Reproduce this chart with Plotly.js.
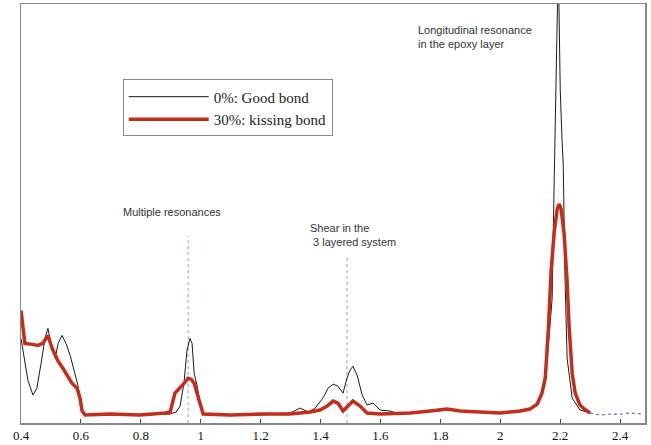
<!DOCTYPE html>
<html>
<head>
<meta charset="utf-8">
<script src="https://cdn.plot.ly/plotly-3.0.1.min.js"></script>
<style>html,body{margin:0;padding:0;background:#fff;}#chart{width:651px;height:445px;}</style>
</head>
<body>
<div id="chart"></div>
<script>
// Series names
const goodName = "0%: Good bond";
const kissName = "30%: kissing bond";

// 0%: Good bond (thin black)
const goodX = [0.400,0.410,0.423,0.440,0.453,0.467,0.480,0.490,0.500,0.514,0.524,0.537,0.550,0.564,0.577,0.590,0.604,0.614,0.700,0.797,0.898,0.918,0.931,0.944,0.954,0.964,0.971,0.978,0.988,0.998,1.008,1.100,1.198,1.298,1.332,1.359,1.382,1.408,1.425,1.442,1.458,1.475,1.488,1.498,1.508,1.522,1.539,1.555,1.575,1.599,1.632,1.665,1.750,1.822,1.900,1.999,2.080,2.123,2.150,2.163,2.173,2.180,2.187,2.190,2.193,2.196,2.200,2.206,2.210,2.216,2.223,2.240,2.266,2.300];
const goodY = [0.77,0.57,0.35,0.20,0.27,0.52,0.77,0.87,0.72,0.57,0.72,0.80,0.72,0.60,0.45,0.30,0.04,0.00,0.01,0.00,0.01,0.03,0.09,0.32,0.65,0.77,0.72,0.42,0.29,0.12,0.01,0.00,0.00,0.02,0.07,0.03,0.07,0.17,0.27,0.31,0.29,0.22,0.37,0.45,0.49,0.40,0.20,0.10,0.12,0.05,0.04,0.01,0.03,0.05,0.03,0.02,0.04,0.10,0.32,0.77,1.17,2.37,3.57,4.47,4.47,4.07,3.27,2.77,2.52,1.37,0.57,0.17,0.05,0.02];

// 30%: kissing bond (thick red)
const kissX = [0.400,0.407,0.413,0.437,0.457,0.473,0.490,0.504,0.524,0.540,0.554,0.570,0.587,0.597,0.604,0.614,0.697,0.797,0.881,0.898,0.914,0.924,0.938,0.948,0.958,0.968,0.978,0.988,0.998,1.008,1.098,1.198,1.298,1.365,1.398,1.422,1.442,1.458,1.475,1.492,1.508,1.532,1.555,1.599,1.699,1.766,1.822,1.866,1.933,1.999,2.066,2.099,2.123,2.139,2.150,2.160,2.170,2.180,2.190,2.196,2.203,2.213,2.223,2.230,2.240,2.250,2.266,2.280,2.300];
const kissY = [1.05,0.82,0.72,0.71,0.70,0.72,0.80,0.67,0.54,0.47,0.40,0.32,0.27,0.17,0.04,0.00,0.01,0.00,0.02,0.03,0.22,0.25,0.30,0.33,0.37,0.36,0.32,0.21,0.10,0.01,0.00,0.01,0.01,0.03,0.05,0.09,0.14,0.12,0.04,0.09,0.14,0.09,0.02,0.01,0.02,0.04,0.06,0.04,0.03,0.02,0.04,0.06,0.11,0.22,0.37,0.84,1.47,1.84,2.07,2.12,2.07,1.82,1.34,0.87,0.42,0.22,0.10,0.06,0.02];

// high-frequency tail (thin blue)
const tailX = [2.300,2.333,2.367,2.400,2.433,2.477];
const tailY = [0.02,0.00,0.01,0.01,0.02,0.01];

// axis
const xTicks = [0.4,0.6,0.8,1,1.2,1.4,1.6,1.8,2,2.2,2.4];
const xTickText = ["0.4","0.6","0.8","1","1.2","1.4","1.6","1.8","2","2.2","2.4"];
const xRange = [0.4, 2.483];
const yRange = [-0.08, 4.13];

// marker lines and notes
const markerX = [0.958, 1.488];
const markerTop = [1.80, 1.60];
const noteText = ["Multiple resonances", "Shear in the<br> 3 layered system", "Longitudinal resonance<br>in the epoxy layer"];
const noteX = [0.734, 1.358, 1.719];
const noteY = [2.04, 1.81, 3.80];

const traces = [
  {x: goodX, y: goodY, name: goodName, mode: "lines", line: {color: "#1a1a1a", width: 1}},
  {x: kissX, y: kissY, name: kissName, mode: "lines", line: {color: "#c42d1c", width: 3.5}},
  {x: tailX, y: tailY, name: "tail", mode: "lines", showlegend: false, line: {color: "#6d72c4", width: 1.2, dash: "dot"}}
];

const shapes = markerX.map((mx, i) => ({
  type: "line", xref: "x", yref: "y", x0: mx, x1: mx, y0: yRange[0], y1: markerTop[i],
  line: {color: "#6fb0d0", width: 1, dash: "dot"}, layer: "below"
}));

const annotations = noteText.map((t, i) => ({
  text: t, x: noteX[i], y: noteY[i], xref: "x", yref: "y", xanchor: "left", yanchor: "middle",
  align: "left", showarrow: false, font: {family: "Liberation Sans, Arial, sans-serif", size: 11, color: "#333"}
}));

const layout = {
  width: 651, height: 445,
  margin: {l: 21, r: 6, t: 4, b: 22, pad: 0},
  paper_bgcolor: "#fff", plot_bgcolor: "#fff",
  showlegend: true,
  legend: {
    x: 0.163, y: 0.82, xanchor: "left", yanchor: "top",
    bgcolor: "#fff", bordercolor: "#888", borderwidth: 1,
    font: {family: "Liberation Serif, Times New Roman, serif", size: 15, color: "#222"},
    itemwidth: 80, tracegroupgap: 0
  },
  xaxis: {
    range: xRange, tickvals: xTicks, ticktext: xTickText,
    ticks: "inside", ticklen: 4, tickcolor: "#444",
    showgrid: false, zeroline: false, showline: true, mirror: true,
    linecolor: "#888", linewidth: 1.5,
    tickfont: {family: "Liberation Serif, Times New Roman, serif", size: 13, color: "#111"}
  },
  yaxis: {
    range: yRange, showticklabels: false, ticks: "", showgrid: false, zeroline: false,
    showline: true, mirror: true, linecolor: "#888", linewidth: 1.5
  },
  shapes: shapes,
  annotations: annotations
};

Plotly.newPlot("chart", traces, layout, {displayModeBar: false, staticPlot: true});
</script>
</body>
</html>
